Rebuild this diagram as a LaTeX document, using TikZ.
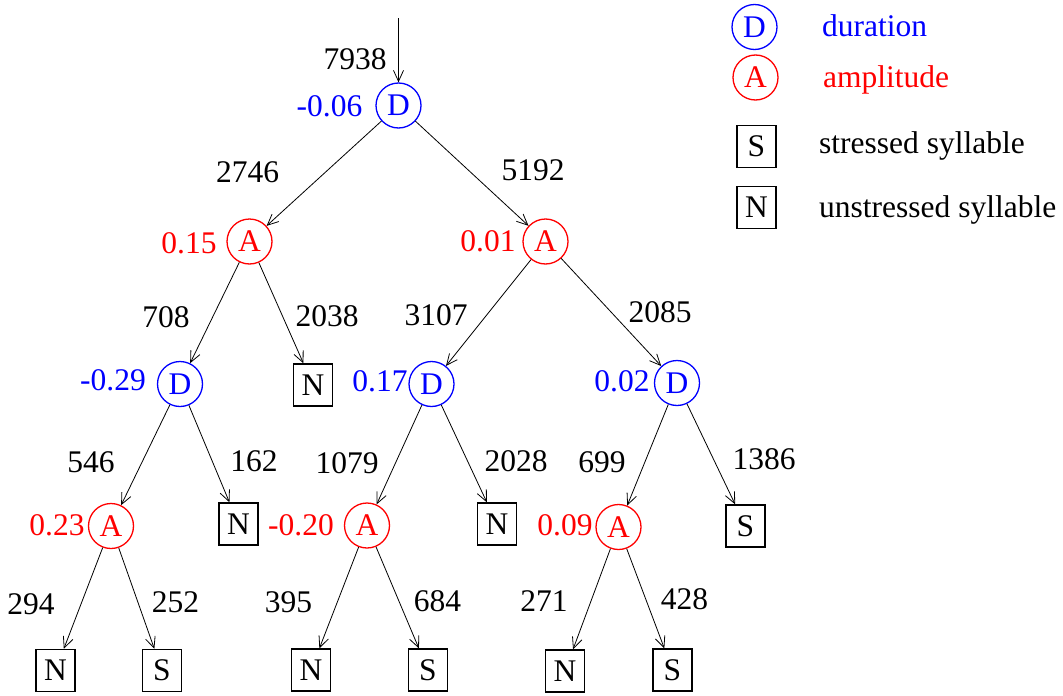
\documentclass[tikz,border=0pt]{standalone}
\usepackage{fontspec}
\setmainfont{Liberation Serif}
\usetikzlibrary{arrows.meta}
\definecolor{dblue}{RGB}{0,0,255}
\definecolor{ared}{RGB}{255,0,0}
\begin{document}
\begin{tikzpicture}[x=1pt,y=-1pt,
  every node/.style={font=\fontsize{31.5}{36}\selectfont, inner sep=0pt},
  dnode/.style={circle, draw=dblue, text=dblue, line width=1.3pt, minimum size=45pt},
  anode/.style={circle, draw=ared, text=ared, line width=1.3pt, minimum size=45pt},
  leaf/.style={rectangle, draw=black, line width=1.3pt, minimum width=39pt, minimum height=42pt},
  num/.style={},
  dval/.style={text=dblue},
  aval/.style={text=ared},
  edge/.style={line width=0.8pt, -{Straight Barb[length=11pt,width=10pt,line width=0.8pt]}},
  dlab/.style={text=dblue, anchor=base west},
  alab/.style={text=ared, anchor=base west},
  tlab/.style={anchor=base west}
]
\useasboundingbox (0,0) rectangle (1063,696);
% tree nodes
\node[dnode] (D0) at (398.5,105.5) {D};
\node[anode] (A1) at (249.5,241.5) {A};
\node[anode] (A2) at (545.5,241.5) {A};
\node[dnode] (D3) at (180,384) {D};
\node[leaf]  (L1) at (313,385) {N};
\node[dnode] (D4) at (431.5,384) {D};
\node[dnode] (D5) at (677,383) {D};
\node[anode] (A6) at (111,526) {A};
\node[leaf]  (L2) at (238.5,524) {N};
\node[anode] (A7) at (367,525.5) {A};
\node[leaf]  (L3) at (497,524) {N};
\node[anode] (A8) at (618.5,527) {A};
\node[leaf]  (L4) at (745.5,526) {S};
\node[leaf]  (L5) at (55.5,670.5) {N};
\node[leaf]  (L6) at (162,670.5) {S};
\node[leaf]  (L7) at (311,670) {N};
\node[leaf]  (L8) at (428,670) {S};
\node[leaf]  (L9) at (565,671) {N};
\node[leaf]  (L10) at (672.5,670) {S};
\coordinate (top) at (398.5,18);
% values
\node[dval] (v0) at (329.5,106) {-0.06};
\node[aval] (v1) at (189,243) {0.15};
\node[aval] (v2) at (488,241) {0.01};
\node[dval] (v3) at (113,380) {-0.29};
\node[dval] (v4) at (380,381) {0.17};
\node[dval] (v5) at (622,381) {0.02};
\node[aval] (v6) at (57,525) {0.23};
\node[aval] (v7) at (301,525) {-0.20};
\node[aval] (v8) at (565,525) {0.09};
% edges
\draw[edge] (top) -- (D0);
\draw[edge] (D0) -- (A1);
\draw[edge] (D0) -- (A2);
\draw[edge] (A1) -- (D3);
\draw[edge] (A1) -- (L1);
\draw[edge] (A2) -- (D4);
\draw[edge] (A2) -- (D5);
\draw[edge] (D3) -- (A6);
\draw[edge] (D3) -- (L2);
\draw[edge] (D4) -- (A7);
\draw[edge] (D4) -- (L3);
\draw[edge] (D5) -- (A8);
\draw[edge] (D5) -- (L4);
\draw[edge] (A6) -- (L5);
\draw[edge] (A6) -- (L6);
\draw[edge] (A7) -- (L7);
\draw[edge] (A7) -- (L8);
\draw[edge] (A8) -- (L9);
\draw[edge] (A8) -- (L10);
% counts
\node[num] (c0) at (355,59) {7938};
\node[num] (c1) at (247.5,172) {2746};
\node[num] (c2) at (533,170) {5192};
\node[num] (c3) at (166,317) {708};
\node[num] (c4) at (327,316) {2038};
\node[num] (c5) at (436,315) {3107};
\node[num] (c6) at (660,312) {2085};
\node[num] (c7) at (91,462) {546};
\node[num] (c8) at (254,461) {162};
\node[num] (c9) at (347,463) {1079};
\node[num] (c10) at (516,461) {2028};
\node[num] (c11) at (602,462) {699};
\node[num] (c12) at (764,459) {1386};
\node[num] (c13) at (31,604) {294};
\node[num] (c14) at (175.5,602) {252};
\node[num] (c15) at (288.5,602) {395};
\node[num] (c16) at (437.5,601) {684};
\node[num] (c17) at (544,601) {271};
\node[num] (c18) at (684.5,599) {428};
% legend
\node[dnode] (kD) at (754.5,27) {D};
\node[dlab] (kDt) at (822,36) {duration};
\node[anode] (kA) at (755.5,77.5) {A};
\node[alab] (kAt) at (823,87) {amplitude};
\node[leaf] (kS) at (756.5,146.5) {S};
\node[tlab] (kSt) at (819,153) {stressed syllable};
\node[leaf] (kN) at (756.5,207.5) {N};
\node[tlab] (kNt) at (819,217) {unstressed syllable};
\end{tikzpicture}
\end{document}
